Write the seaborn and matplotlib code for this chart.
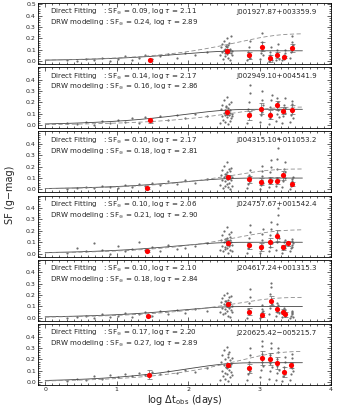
import numpy as np
import pandas as pd
import matplotlib
matplotlib.use("Agg")
import matplotlib.pyplot as plt
import seaborn as sns
from matplotlib.ticker import MultipleLocator

sns.set_theme(style="ticks")
plt.rcParams['font.family'] = ['DejaVu Sans']

names = ["J001927.87+003359.9", "J002949.10+004541.9", "J004315.10+011053.2",
         "J024757.67+001542.4", "J204617.24+001315.3", "J220625.42\u2212005215.7"]
direct_sf = [0.09, 0.14, 0.10, 0.10, 0.10, 0.17]
direct_tau = [2.11, 2.17, 2.17, 2.06, 2.10, 2.20]
drw_sf = [0.24, 0.16, 0.18, 0.21, 0.18, 0.27]
drw_tau = [2.89, 2.86, 2.81, 2.90, 2.84, 2.89]

# shared time-lag positions of the gray pair points (log dt)
gx = [0.30, 0.44, 0.57, 0.69, 0.80, 0.91, 1.02, 1.12, 1.22, 1.31, 1.40, 1.50, 1.61, 1.72, 1.84, 1.96, 2.10, 2.26,
      2.45, 2.46, 2.47, 2.48, 2.49, 2.50, 2.50, 2.51, 2.52, 2.52, 2.53, 2.54, 2.54, 2.55, 2.55, 2.56, 2.56, 2.57,
      2.57, 2.58, 2.58, 2.59, 2.60, 2.60, 2.61, 2.62, 2.53, 2.56,
      2.83, 2.84, 2.84, 2.85, 2.86, 2.86, 2.87,
      3.01, 3.02, 3.03, 3.03, 3.04, 3.04, 3.05,
      3.13, 3.14, 3.15, 3.15, 3.16, 3.16, 3.17,
      3.23, 3.24, 3.25, 3.25, 3.26, 3.26, 3.27,
      3.32, 3.33, 3.34, 3.34, 3.35, 3.35, 3.36,
      3.43, 3.44, 3.45, 3.45, 3.46, 3.46, 3.47]

gy1 = [0.01, 0.00, 0.02, 0.01, 0.03, 0.00, 0.02, 0.04, 0.01, 0.03, 0.05, 0.02, 0.04, 0.06, 0.03, 0.07, 0.05, 0.08,
       0.05, 0.12, 0.08, 0.15, 0.02, 0.10, 0.18, 0.07, 0.11, 0.04, 0.13, 0.09, 0.20, 0.06, 0.12, 0.03, 0.14, 0.08,
       0.16, 0.10, 0.01, 0.11, 0.07, 0.22, 0.09, 0.05, 0.13, 0.10,
       0.01, 0.04, 0.08, 0.12, 0.03, 0.06, 0.18,
       0.02, 0.07, 0.12, 0.17, 0.25, 0.10, 0.05,
       0.00, 0.02, 0.05, 0.08, 0.03, 0.12, 0.01,
       0.01, 0.04, 0.07, 0.10, 0.15, 0.05, 0.02,
       0.01, 0.03, 0.05, 0.02, 0.07, 0.04, 0.10,
       0.03, 0.08, 0.12, 0.17, 0.22, 0.10, 0.14]
gy2 = [0.02, 0.01, 0.03, 0.00, 0.04, 0.02, 0.05, 0.03, 0.06, 0.02, 0.07, 0.04, 0.08, 0.05, 0.09, 0.06, 0.10, 0.08,
       0.02, 0.14, 0.08, 0.18, 0.05, 0.11, 0.22, 0.09, 0.13, 0.03, 0.16, 0.10, 0.25, 0.07, 0.12, 0.01, 0.15, 0.09,
       0.19, 0.11, 0.04, 0.13, 0.06, 0.20, 0.10, 0.08, 0.17, 0.12,
       0.02, 0.08, 0.14, 0.20, 0.28, 0.35, 0.11,
       0.03, 0.09, 0.15, 0.22, 0.30, 0.12, 0.18,
       0.01, 0.06, 0.11, 0.16, 0.22, 0.09, 0.27,
       0.04, 0.10, 0.17, 0.24, 0.13, 0.20, 0.07,
       0.02, 0.08, 0.13, 0.18, 0.24, 0.11, 0.15,
       0.03, 0.09, 0.14, 0.19, 0.12, 0.21, 0.06]
gy3 = [0.00, 0.01, 0.02, 0.01, 0.03, 0.02, 0.01, 0.04, 0.02, 0.05, 0.03, 0.06, 0.04, 0.07, 0.05, 0.08, 0.06, 0.09,
       0.04, 0.13, 0.08, 0.17, 0.01, 0.11, 0.21, 0.07, 0.14, 0.03, 0.12, 0.09, 0.24, 0.05, 0.15, 0.02, 0.10, 0.18,
       0.06, 0.12, 0.00, 0.16, 0.08, 0.19, 0.11, 0.03, 0.14, 0.09,
       0.01, 0.05, 0.09, 0.13, 0.17, 0.07, 0.11,
       0.00, 0.04, 0.08, 0.12, 0.16, 0.21, 0.06,
       0.02, 0.06, 0.10, 0.15, 0.20, 0.26, 0.08,
       0.03, 0.10, 0.18, 0.27, 0.36, 0.45, 0.08,
       0.02, 0.07, 0.12, 0.18, 0.24, 0.10, 0.15,
       0.00, 0.03, 0.06, 0.09, 0.04, 0.07, 0.11]
gy4 = [0.01, 0.05, 0.02, 0.09, 0.03, 0.00, 0.07, 0.02, 0.04, 0.10, 0.03, 0.06, 0.02, 0.08, 0.04, 0.05, 0.07, 0.09,
       0.03, 0.12, 0.07, 0.16, 0.02, 0.10, 0.20, 0.06, 0.13, 0.04, 0.11, 0.08, 0.23, 0.05, 0.14, 0.01, 0.09, 0.17,
       0.07, 0.12, 0.03, 0.15, 0.10, 0.19, 0.08, 0.02, 0.13, 0.11,
       0.01, 0.05, 0.09, 0.14, 0.19, 0.07, 0.25,
       0.01, 0.04, 0.08, 0.12, 0.17, 0.06, 0.22,
       0.02, 0.06, 0.11, 0.16, 0.22, 0.28, 0.09,
       0.03, 0.10, 0.18, 0.26, 0.34, 0.40, 0.14,
       0.01, 0.04, 0.07, 0.10, 0.05, 0.08, 0.12,
       0.02, 0.05, 0.08, 0.11, 0.06, 0.13, 0.09]
gy5 = [0.00, 0.01, 0.02, 0.00, 0.03, 0.01, 0.02, 0.04, 0.01, 0.03, 0.05, 0.02, 0.06, 0.03, 0.07, 0.04, 0.08, 0.06,
       0.05, 0.14, 0.09, 0.17, 0.03, 0.12, 0.20, 0.08, 0.15, 0.04, 0.11, 0.10, 0.22, 0.06, 0.13, 0.02, 0.16, 0.09,
       0.18, 0.12, 0.01, 0.14, 0.07, 0.19, 0.10, 0.05, 0.15, 0.11,
       0.00, 0.04, 0.08, 0.13, 0.18, 0.25, 0.06,
       0.00, 0.02, 0.05, 0.08, 0.11, 0.03, 0.06,
       0.03, 0.09, 0.15, 0.21, 0.27, 0.31, 0.12,
       0.02, 0.05, 0.09, 0.13, 0.07, 0.11, 0.04,
       0.01, 0.03, 0.06, 0.09, 0.04, 0.07, 0.02,
       0.00, 0.02, 0.04, 0.06, 0.03, 0.05, 0.01]
gy6 = [0.01, 0.03, 0.02, 0.05, 0.03, 0.06, 0.04, 0.07, 0.05, 0.08, 0.06, 0.09, 0.07, 0.10, 0.08, 0.11, 0.09, 0.12,
       0.02, 0.18, 0.10, 0.24, 0.05, 0.15, 0.28, 0.08, 0.20, 0.03, 0.13, 0.12, 0.31, 0.07, 0.17, 0.01, 0.22, 0.11,
       0.26, 0.14, 0.04, 0.19, 0.09, 0.16, 0.06, 0.21, 0.13, 0.25,
       0.02, 0.07, 0.12, 0.18, 0.24, 0.30, 0.10,
       0.04, 0.11, 0.18, 0.25, 0.32, 0.36, 0.14,
       0.03, 0.10, 0.17, 0.24, 0.30, 0.34, 0.13,
       0.02, 0.08, 0.14, 0.20, 0.26, 0.30, 0.11,
       0.01, 0.05, 0.09, 0.13, 0.18, 0.22, 0.07,
       0.02, 0.07, 0.12, 0.17, 0.21, 0.25, 0.10]
gray_y = [gy1, gy2, gy3, gy4, gy5, gy6]

# binned structure function (red points)
bx1 = [1.47, 2.55, 2.85, 3.03, 3.15, 3.25, 3.34, 3.45]
by1 = [0.010, 0.090, 0.050, 0.127, 0.025, 0.055, 0.034, 0.115]
be1 = [0.010, 0.015, 0.030, 0.040, 0.030, 0.025, 0.010, 0.035]
bx2 = [1.47, 2.55, 2.85, 3.02, 3.15, 3.25, 3.33, 3.45]
by2 = [0.043, 0.114, 0.088, 0.146, 0.094, 0.174, 0.129, 0.137]
be2 = [0.020, 0.020, 0.040, 0.050, 0.040, 0.040, 0.030, 0.040]
bx3 = [1.42, 2.56, 2.85, 3.02, 3.15, 3.24, 3.33, 3.46]
by3 = [0.015, 0.111, 0.089, 0.068, 0.076, 0.076, 0.126, 0.047]
be3 = [0.010, 0.020, 0.030, 0.030, 0.030, 0.030, 0.040, 0.020]
bx4 = [1.43, 2.56, 2.85, 3.02, 3.15, 3.24, 3.33, 3.40]
by4 = [0.023, 0.096, 0.075, 0.055, 0.099, 0.157, 0.055, 0.090]
be4 = [0.010, 0.020, 0.030, 0.035, 0.040, 0.050, 0.020, 0.020]
bx5 = [1.44, 2.56, 2.85, 3.03, 3.16, 3.25, 3.33, 3.36]
by5 = [0.018, 0.118, 0.054, 0.025, 0.150, 0.077, 0.054, 0.031]
be5 = [0.010, 0.020, 0.030, 0.020, 0.040, 0.030, 0.020, 0.020]
bx6 = [1.45, 2.56, 2.85, 3.04, 3.15, 3.25, 3.34, 3.44]
by6 = [0.064, 0.149, 0.120, 0.210, 0.204, 0.167, 0.088, 0.149]
be6 = [0.040, 0.020, 0.040, 0.060, 0.050, 0.050, 0.040, 0.030]
bin_x = [bx1, bx2, bx3, bx4, bx5, bx6]
bin_y = [by1, by2, by3, by4, by5, by6]
bin_e = [be1, be2, be3, be4, be5, be6]

W, H = 341, 412
fig = plt.figure(figsize=(W / 100, H / 100), dpi=100)
left, right = 38 / W, 331 / W
ph, step, top0 = 61, 64.2, 3

xmod = np.linspace(0.0, 3.6, 200)

for i in range(6):
    top = top0 + step * i
    ax = fig.add_axes([left, 1 - (top + ph) / H, right - left, ph / H])
    ax.set_facecolor("white")
    sns.scatterplot(x=gx, y=gray_y[i], ax=ax, s=2.5, color="#6e6e6e", linewidth=0, legend=False, zorder=1)
    d = pd.DataFrame({"x": xmod,
                      "fit": direct_sf[i] * np.sqrt(1 - np.exp(-10 ** xmod / 10 ** direct_tau[i])),
                      "drw": drw_sf[i] * np.sqrt(1 - np.exp(-10 ** xmod / 10 ** drw_tau[i]))})
    sns.lineplot(data=d, x="x", y="fit", ax=ax, color="#444444", lw=0.6, zorder=2)
    sns.lineplot(data=d, x="x", y="drw", ax=ax, color="#8c8c8c", lw=0.6, ls=(0, (5, 3)), zorder=2)
    ax.errorbar(bin_x[i], bin_y[i], yerr=bin_e[i], fmt="none", ecolor="#666666", elinewidth=0.5,
                capsize=1.8, capthick=0.5, zorder=3)
    sns.scatterplot(x=bin_x[i], y=bin_y[i], ax=ax, s=14, color="red", linewidth=0, legend=False, zorder=4)

    ax.set_xlim(-0.1, 4.0)
    ax.set_ylim(-0.026, 0.51)
    ax.xaxis.set_major_locator(MultipleLocator(1))
    ax.xaxis.set_minor_locator(MultipleLocator(0.1))
    if i == 0:
        ax.set_yticks([0.0, 0.1, 0.2, 0.3, 0.4, 0.5])
    else:
        ax.set_yticks([0.0, 0.1, 0.2, 0.3, 0.4])
    ax.yaxis.set_minor_locator(MultipleLocator(0.02))
    ax.yaxis.set_major_formatter(matplotlib.ticker.FormatStrFormatter("%.1f"))
    ax.tick_params(which="both", direction="in", top=True, right=True, labelsize=4.5, width=0.5, pad=1.5)
    ax.tick_params(which="major", length=3)
    ax.tick_params(which="minor", length=1.5)
    for s in ax.spines.values():
        s.set_linewidth(0.6)
        s.set_color("black")
    ax.set_xlabel("")
    ax.set_ylabel("")
    if i < 5:
        ax.set_xticklabels([])
    ax.text(0.07, 0.435, "Direct Fitting   : SF$_\\infty$ = %.2f, log $\\tau$ = %.2f" % (direct_sf[i], direct_tau[i]),
            fontsize=5.1, va="center", ha="left")
    ax.text(0.07, 0.34, "DRW modeling : SF$_\\infty$ = %.2f, log $\\tau$ = %.2f" % (drw_sf[i], drw_tau[i]),
            fontsize=5.1, va="center", ha="left")
    ax.text(3.8, 0.435, names[i], fontsize=5.1, va="center", ha="right")

fig.text(185 / W, 1 - 400 / H, "log $\\Delta$t$_{\\rm obs}$ (days)", fontsize=7, ha="center", va="center")
fig.text(10 / W, 1 - 195 / H, "SF (g\u2212mag)", fontsize=7, ha="center", va="center", rotation=90)

fig.savefig("out.png", dpi=100)
